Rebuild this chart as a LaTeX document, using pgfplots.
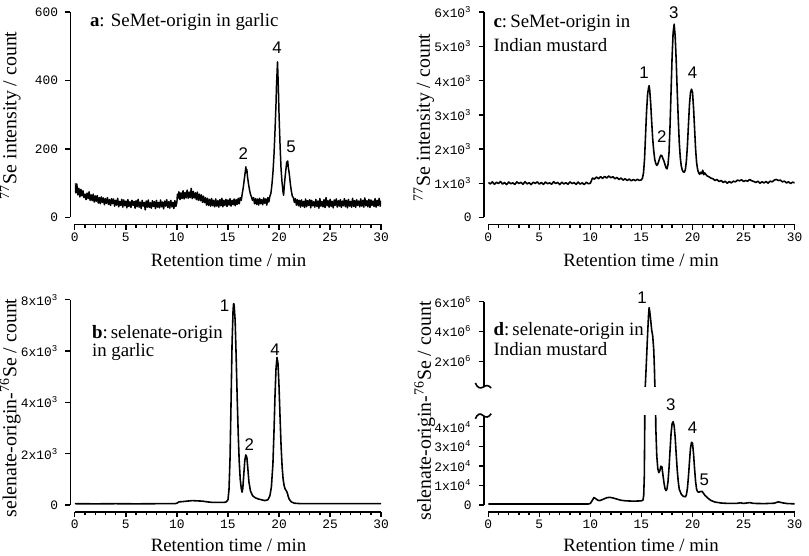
\documentclass[border=0pt]{standalone}
\usepackage{fontspec}
\setmainfont{Liberation Serif}
\setmonofont{Liberation Mono}
\newfontfamily\arial{Liberation Sans}
\usepackage{pgfplots}
\pgfplotsset{compat=1.18}
\pgfplotsset{
 chrom/.style={
  scale only axis, width=154.5pt, anchor=south west,
  axis lines*=left,
  axis x line shift=3.5pt, axis y line shift=2.25pt,
  xmin=0,xmax=30,
  xtick={0,5,...,30}, xticklabels={0,5,10,15,20,25,30},
  minor x tick num=4,
  tick align=outside,
  scaled y ticks=false,
  major tick length=2.6pt, minor tick length=1.6pt,
  every tick/.style={black, line width=0.7pt},
  axis line style={line width=0.8pt},
  ticklabel style={font=\fontsize{6.5}{7}\selectfont\ttfamily},
  xticklabel style={yshift=2pt},
  clip=true,
 },
 trace/.style={black, line width=0.8pt, line join=round, no marks},
}
\begin{document}
\begin{tikzpicture}
\path (0,0) rectangle (404.5pt,-277.5pt);
% ---------- a ----------
\begin{axis}[chrom, at={(37.5pt,-107pt)}, height=103.5pt, ymin=0, ymax=600,
  ytick={0,200,400,600}, yticklabels={0,200,400,600}]
\addplot[trace, line width=0.75pt] coordinates {
(0.0,100)(0.1,72)(0.2,98)(0.3,66)(0.4,85)(0.5,60)(0.6,82)(0.7,63)(0.8,78)(0.9,58)
(1.0,68)(1.1,52)(1.2,71)(1.3,55)(1.4,75)(1.5,50)(1.6,66)(1.7,49)(1.8,68)(1.9,45)
(2.0,63)(2.1,47)(2.2,64)(2.3,42)(2.4,58)(2.5,40)(2.6,60)(2.7,44)(2.8,57)(2.9,37)
(3.0,55)(3.1,41)(3.2,58)(3.3,38)(3.4,52)(3.5,35)(3.6,55)(3.7,40)(3.8,54)(3.9,33)
(4.0,50)(4.1,36)(4.2,56)(4.3,31)(4.4,47)(4.5,35)(4.6,53)(4.7,30)(4.8,51)(4.9,34)
(5.0,48)(5.1,28)(5.2,52)(5.3,32)(5.4,46)(5.5,29)(5.6,50)(5.7,35)(5.8,47)(5.9,27)
(6.0,49)(6.1,31)(6.2,53)(6.3,30)(6.4,45)(6.5,26)(6.6,50)(6.7,33)(6.8,44)(6.9,22)
(7.0,48)(7.1,30)(7.2,51)(7.3,29)(7.4,43)(7.5,27)(7.6,49)(7.7,32)(7.8,46)(7.9,26)
(8.0,50)(8.1,30)(8.2,44)(8.3,28)(8.4,51)(8.5,31)(8.6,45)(8.7,25)(8.8,48)(8.9,33)
(9.0,52)(9.1,29)(9.2,46)(9.3,27)(9.4,50)(9.5,31)(9.6,44)(9.7,26)(9.8,49)(9.9,32)
(10.0,45)(10.05,68)(10.1,55)(10.2,75)(10.3,52)(10.4,72)(10.5,55)(10.6,78)(10.7,54)(10.8,73)(10.9,57)
(11.0,80)(11.1,56)(11.2,74)(11.3,58)(11.4,85)(11.5,55)(11.6,76)(11.7,57)(11.8,72)(11.9,52)
(12.0,74)(12.1,50)(12.2,68)(12.3,49)(12.4,66)(12.5,44)(12.6,62)(12.7,43)(12.8,58)(12.9,36)
(13.0,56)(13.1,35)(13.2,53)(13.3,33)(13.4,55)(13.5,34)(13.6,50)(13.7,31)(13.8,54)(13.9,33)
(14.0,49)(14.1,30)(14.2,52)(14.3,34)(14.4,56)(14.5,31)(14.6,50)(14.7,35)(14.8,53)(14.9,32)
(15.0,51)(15.1,36)(15.2,55)(15.3,33)(15.4,50)(15.5,37)(15.6,54)(15.7,34)(15.8,52)(15.9,38)
(16.0,56)(16.1,40)(16.2,58)(16.3,50)(16.4,70)(16.5,88)(16.6,112)(16.7,135)(16.75,148)(16.8,132)
(16.85,140)(16.9,122)(17.0,100)(17.1,82)(17.2,68)(17.3,60)(17.4,50)(17.5,58)(17.6,40)(17.7,55)
(17.8,38)(17.9,54)(18.0,36)(18.1,56)(18.2,40)(18.3,52)(18.4,37)(18.5,57)(18.6,41)(18.7,54)
(18.8,36)(18.9,58)(19.0,45)(19.1,62)(19.2,70)(19.3,95)(19.4,130)(19.5,180)(19.6,250)(19.7,330)
(19.75,385)(19.8,420)(19.85,455)(19.9,410)(19.95,360)(20.0,300)(20.1,210)(20.2,140)(20.3,100)(20.4,72)
(20.45,65)(20.5,88)(20.6,120)(20.7,148)(20.75,162)(20.8,150)(20.85,165)(20.9,148)(21.0,128)(21.1,100)
(21.2,78)(21.3,62)(21.4,58)(21.5,44)(21.6,55)(21.7,36)(21.8,52)(21.9,34)(22.0,50)
(22.1,30)(22.2,51)(22.3,33)(22.4,47)(22.5,29)(22.6,54)(22.7,31)(22.8,49)(22.9,35)
(23.0,52)(23.1,28)(23.2,50)(23.3,34)(23.4,46)(23.5,30)(23.6,53)(23.7,32)(23.8,48)(23.9,27)
(24.0,55)(24.1,33)(24.2,47)(24.3,31)(24.4,52)(24.5,29)(24.6,58)(24.7,34)(24.8,49)(24.9,30)
(25.0,53)(25.1,32)(25.2,47)(25.3,28)(25.4,51)(25.5,35)(25.6,54)(25.7,30)(25.8,49)(25.9,33)
(26.0,52)(26.1,29)(26.2,48)(26.3,34)(26.4,55)(26.5,31)(26.6,50)(26.7,28)(26.8,53)(26.9,33)
(27.0,47)(27.1,30)(27.2,56)(27.3,32)(27.4,49)(27.5,29)(27.6,52)(27.7,35)(27.8,48)(27.9,31)
(28.0,54)(28.1,33)(28.2,50)(28.3,30)(28.4,57)(28.5,34)(28.6,49)(28.7,31)(28.8,53)(28.9,29)
(29.0,51)(29.1,35)(29.2,48)(29.3,32)(29.4,55)(29.5,30)(29.6,50)(29.7,34)(29.8,56)(29.9,33)(30.0,49)
};
\end{axis}
% ---------- c ----------
\begin{axis}[chrom, at={(246pt,-107pt)}, height=103.5pt, ymin=0, ymax=6000,
  ytick={0,1000,...,6000},
  yticklabels={0,1x10\textsuperscript{3},2x10\textsuperscript{3},3x10\textsuperscript{3},4x10\textsuperscript{3},5x10\textsuperscript{3},6x10\textsuperscript{3}}]
\addplot[trace] coordinates {
(0,1020)(0.2,980)(0.4,1040)(0.6,970)(0.8,1030)(1.0,990)(1.2,1050)(1.4,975)(1.6,1020)(1.8,960)
(2.0,1035)(2.2,985)(2.4,1010)(2.6,965)(2.8,1040)(3.0,990)(3.2,1025)(3.4,970)(3.6,1045)(3.8,980)
(4.0,1015)(4.2,960)(4.4,1030)(4.6,995)(4.8,1040)(5.0,975)(5.2,1020)(5.4,965)(5.6,1035)(5.8,985)
(6.0,1010)(6.2,970)(6.4,1045)(6.6,990)(6.8,1025)(7.0,960)(7.2,1030)(7.4,980)(7.6,1015)(7.8,970)
(8.0,1040)(8.2,990)(8.4,1020)(8.6,965)(8.8,1035)(9.0,975)(9.2,1010)(9.4,960)(9.6,1030)(9.8,985)
(10.0,1000)(10.2,1150)(10.4,1120)(10.6,1180)(10.8,1130)(11.0,1190)(11.2,1140)(11.4,1200)(11.6,1150)(11.8,1210)
(12.0,1160)(12.2,1190)(12.4,1130)(12.6,1170)(12.8,1110)(13.0,1150)(13.2,1090)(13.4,1130)(13.6,1080)(13.8,1120)
(14.0,1070)(14.2,1110)(14.4,1075)(14.6,1115)(14.8,1080)(15.0,1100)(15.1,1150)(15.2,1300)(15.3,1700)(15.4,2400)
(15.5,3100)(15.6,3600)(15.7,3800)(15.75,3850)(15.8,3750)(15.9,3350)(16.0,2800)(16.1,2300)(16.2,1950)(16.3,1700)
(16.4,1580)(16.5,1520)(16.6,1560)(16.7,1650)(16.8,1750)(16.9,1820)(17.0,1800)(17.1,1720)(17.2,1650)(17.3,1550)
(17.4,1450)(17.5,1420)(17.6,1550)(17.7,1900)(17.8,2700)(17.9,3700)(18.0,4700)(18.1,5400)(18.2,5650)(18.3,5300)
(18.4,4600)(18.5,3700)(18.6,2900)(18.7,2200)(18.8,1750)(18.9,1500)(19.0,1380)(19.1,1330)(19.2,1320)(19.3,1400)
(19.4,1650)(19.5,2100)(19.6,2700)(19.7,3300)(19.8,3650)(19.9,3750)(20.0,3650)(20.1,3200)(20.2,2600)(20.3,2000)
(20.4,1600)(20.5,1400)(20.6,1300)(20.7,1260)(20.8,1320)(20.9,1280)(21.0,1380)(21.1,1250)(21.2,1300)(21.4,1220)
(21.6,1190)(21.8,1150)(22.0,1130)(22.2,1080)(22.4,1110)(22.6,1050)(22.8,1080)(23.0,1020)(23.2,1060)(23.4,1000)
(23.6,1050)(23.8,1010)(24.0,1060)(24.2,1040)(24.4,1090)(24.6,1070)(24.8,1100)(25.0,1050)(25.2,1080)(25.4,1060)
(25.6,1110)(25.8,1070)(26.0,1050)(26.2,1020)(26.4,1060)(26.6,1000)(26.8,1040)(27.0,1010)(27.2,1050)(27.4,1000)
(27.6,1060)(27.8,1040)(28.0,1090)(28.2,1110)(28.4,1080)(28.6,1090)(28.8,1040)(29.0,1060)(29.2,1010)(29.4,1040)
(29.6,990)(29.8,1030)(30.0,1010)
};
\end{axis}
% ---------- b ----------
\begin{axis}[chrom, at={(37.5pt,-252pt)}, height=103.5pt, ymin=0, ymax=8000,
  ytick={0,2000,...,8000},
  yticklabels={0,2x10\textsuperscript{3},4x10\textsuperscript{3},6x10\textsuperscript{3},8x10\textsuperscript{3}}]
\addplot[trace] coordinates {
(0,50)(2,45)(4,50)(6,45)(8,50)(9.8,50)(10.0,70)(10.2,120)(10.5,130)(11,150)(11.5,170)(12,160)(12.5,150)
(13,120)(13.5,100)(14,100)(14.5,100)(14.8,110)(15.0,200)(15.1,600)(15.2,1800)(15.3,4000)(15.4,6300)
(15.5,7600)(15.55,7850)(15.6,7800)(15.7,7200)(15.8,5800)(15.9,4200)(16.0,2800)(16.1,1700)(16.2,1000)
(16.3,650)(16.38,500)(16.45,650)(16.55,1200)(16.65,1750)(16.75,1950)(16.85,1850)(16.95,1400)(17.05,900)
(17.2,550)(17.4,370)(17.6,300)(17.8,260)(18.0,230)(18.3,200)(18.6,170)(18.9,200)(19.1,350)(19.25,700)
(19.4,1600)(19.5,2800)(19.6,4200)(19.7,5300)(19.8,5750)(19.9,5500)(20.0,4600)(20.1,3400)(20.2,2300)
(20.3,1500)(20.4,1000)(20.5,750)(20.6,620)(20.7,560)(20.8,480)(20.9,330)(21.0,220)(21.2,120)(21.5,70)
(22,55)(24,50)(26,55)(28,50)(30,50)
};
\end{axis}
% ---------- d (lower) ----------
\begin{axis}[chrom, at={(246pt,-252pt)}, height=45pt, ymin=0, ymax=45570,
  ytick={0,10000,...,40000},
  yticklabels={0,1x10\textsuperscript{4},2x10\textsuperscript{4},3x10\textsuperscript{4},4x10\textsuperscript{4}}]
\addplot[trace] coordinates {
(0,500)(5,500)(9.8,500)(10.0,800)(10.2,2500)(10.35,3800)(10.5,3300)(10.7,2500)(10.9,2200)(11.2,2800)
(11.6,3700)(11.9,3900)(12.2,3600)(12.6,3000)(13,2400)(13.5,2100)(14,2000)(14.5,2000)(15.0,2100)(15.15,2500)
(15.22,5000)(15.28,15000)(15.32,40000)(15.36,150000)(15.4,700000)(15.5,2200000)(15.6,3800000)(15.7,5200000)
(15.75,5600000)(15.8,5400000)(15.9,4800000)(16.0,4100000)(16.1,3700000)(16.2,2800000)(16.27,1500000)
(16.31,400000)(16.35,80000)(16.4,40000)(16.5,25000)(16.6,18500)(16.7,16500)(16.8,17500)(16.9,19800)
(17.0,19500)(17.1,15500)(17.2,11500)(17.3,8500)(17.4,7300)(17.5,8200)(17.6,12000)(17.7,19000)(17.8,28000)
(17.9,36500)(18.0,41500)(18.1,42500)(18.2,40500)(18.3,34500)(18.4,26000)(18.5,18000)(18.6,12000)(18.7,8000)
(18.9,5500)(19.1,4400)(19.3,4200)(19.4,5200)(19.5,8500)(19.6,14500)(19.7,22000)(19.8,29000)(19.9,32000)
(20.0,31500)(20.1,26000)(20.2,18500)(20.3,12000)(20.4,8000)(20.5,6800)(20.6,6500)(20.75,6800)(20.9,7000)
(21.0,6500)(21.2,5000)(21.5,3500)(21.8,2300)(22.2,1500)(22.8,1000)(23.5,800)(24.3,800)(24.7,1100)(25.0,800)
(25.6,1200)(26,800)(27,700)(28,900)(28.4,1600)(28.8,1100)(29.3,700)(30,600)
};
\end{axis}
% ---------- d (upper) ----------
\begin{axis}[chrom, at={(246pt,-192.5pt)}, height=43pt, ymin=270000, ymax=6000000,
  axis x line=none, xtick=\empty,
  ytick={2000000,4000000,6000000},
  yticklabels={2x10\textsuperscript{6},4x10\textsuperscript{6},6x10\textsuperscript{6}}]
\addplot[trace] coordinates {
(15.0,2100)(15.15,2500)(15.22,5000)(15.28,15000)(15.32,40000)(15.36,150000)(15.4,700000)(15.5,2200000)
(15.6,3800000)(15.7,5200000)(15.75,5600000)(15.8,5400000)(15.9,4800000)(16.0,4100000)(16.1,3700000)
(16.2,2800000)(16.27,1500000)(16.31,400000)(16.35,80000)(16.4,40000)
};
\end{axis}
% ---------- text ----------
\begin{scope}[x=0.5pt,y=-0.5pt]
 \draw[line width=0.8pt] (479,381) .. controls (481,386) and (484,387) .. (487,385) .. controls (490,383) and (492,383) .. (495,386);
 \draw[line width=0.8pt] (479,417) .. controls (481,412) and (484,411) .. (487,414) .. controls (490,416) and (492,416) .. (495,412);
 \tikzset{lab/.style={font=\fontsize{9.5}{11}\selectfont, anchor=base west, inner sep=0pt},
   yl/.style={font=\fontsize{10}{12}\selectfont, rotate=90, inner sep=0pt},
   xl/.style={font=\fontsize{9.5}{11}\selectfont, inner sep=0pt},
   pk/.style={font=\fontsize{8.5}{10}\selectfont\arial, inner sep=0pt}}
 \node[lab] at (90,21) {\textbf{a}: SeMet-origin in garlic};
 \node[lab] at (497,22) {\textbf{c}:\,SeMet-origin in};
 \node[lab] at (497,47) {Indian mustard};
 \node[lab] at (92,336) {\textbf{b}:\,selenate-origin};
 \node[lab] at (92,354) {in garlic};
 \node[lab] at (497,333) {\textbf{d}:\,selenate-origin in};
 \node[lab] at (497,353) {Indian mustard};
 \node[xl] at (230,257) {Retention time / min};
 \node[xl] at (646,257) {Retention time / min};
 \node[xl] at (230,545) {Retention time / min};
 \node[xl] at (646,545) {Retention time / min};
 \node[yl] at (10,111) {\textsuperscript{77}Se intensity / count};
 \node[yl] at (427,113) {\textsuperscript{77}Se intensity / count};
 \node[yl] at (10,406) {selenate-origin-\textsuperscript{76}Se / count};
 \node[yl] at (428,409) {selenate-origin-\textsuperscript{76}Se / count};
 \node[pk] at (245,150) {2};
 \node[pk] at (279,43) {4};
 \node[pk] at (293,143) {5};
 \node[pk] at (649,68) {1};
 \node[pk] at (667,132) {2};
 \node[pk] at (679,8) {3};
 \node[pk] at (698,68) {4};
 \node[pk] at (226,303) {1};
 \node[pk] at (251,443) {2};
 \node[pk] at (277,347) {4};
 \node[pk] at (647,295) {1};
 \node[pk] at (676,403) {3};
 \node[pk] at (698,426) {4};
 \node[pk] at (710,479) {5};
\end{scope}
\end{tikzpicture}
\end{document}
